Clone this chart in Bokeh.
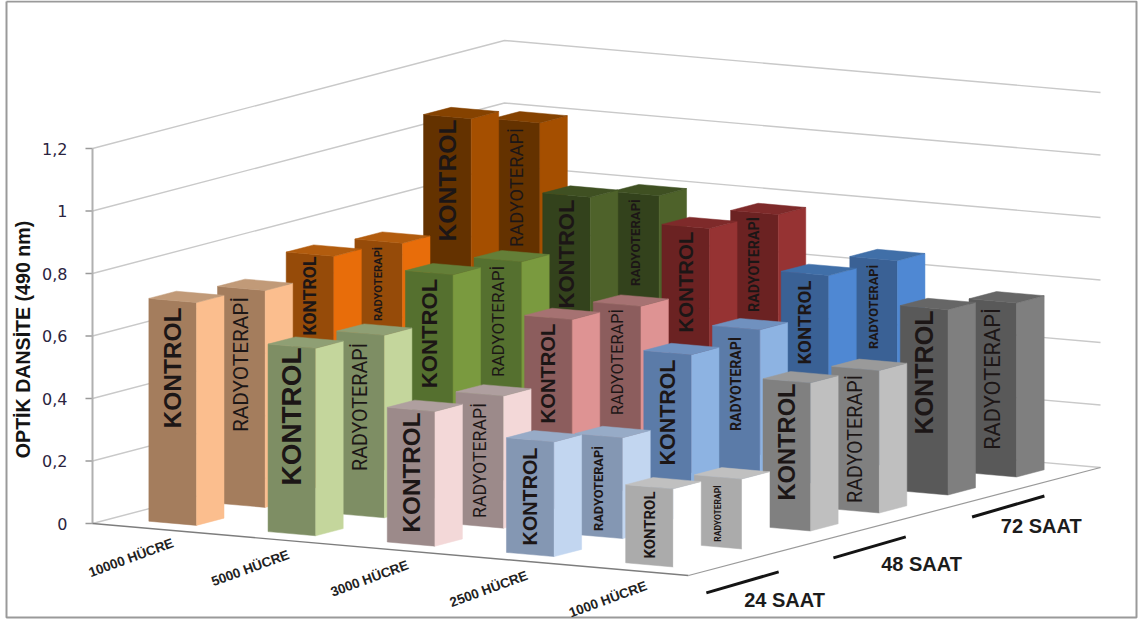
from math import pi
from bokeh.plotting import figure
from bokeh.embed import file_html
from bokeh.resources import INLINE
from bokeh.core.properties import value

cell_labels = ["10000 HÜCRE", "5000 HÜCRE", "3000 HÜCRE", "2500 HÜCRE", "1000 HÜCRE"]
hour_labels = ["24 SAAT", "48 SAAT", "72 SAAT"]
tick_values = [0, 0.2, 0.4, 0.6, 0.8, 1.0, 1.2]
tick_labels = ["0", "0,2", "0,4", "0,6", "0,8", "1", "1,2"]
y_title = "OPTİK DANSİTE (490 nm)"
series_names = ["KONTROL", "RADYOTERAPİ"]

# Optical density per cell count, front row to back row
kontrol_24 = [0.713, 0.600, 0.431, 0.367, 0.250]
radyo_24 = [0.694, 0.584, 0.423, 0.323, 0.224]
kontrol_48 = [0.746, 0.720, 0.610, 0.531, 0.474]
radyo_48 = [0.730, 0.704, 0.595, 0.553, 0.456]
kontrol_72 = [1.071, 0.853, 0.786, 0.669, 0.593]
radyo_72 = [1.000, 0.800, 0.773, 0.659, 0.557]
rows = [kontrol_24, radyo_24, kontrol_48, radyo_48, kontrol_72, radyo_72]

# Face colours (front, side, top) for each hour group and cell count
palette = {
    0: [("#A47D5D", "#FBBE8E", "#C19A78"), ("#7E8E64", "#C4D69C", "#8F9F74"), ("#9C8A8A", "#F3D8D8", "#AF9F9F"),
        ("#8497B3", "#C2D6F0", "#97ABC7"), ("#ABABAB", "#FFFFFF", "#C0C0C0")],
    1: [("#964B09", "#E86D0A", "#B25C0E"), ("#55702F", "#7A9A3F", "#647F38"), ("#8C5D5D", "#DE9393", "#A67272"),
        ("#5B7BA8", "#8DB3E2", "#7091BF"), ("#808080", "#BFBFBF", "#9A9A9A")],
    2: [("#643200", "#A54F00", "#854200"), ("#33421C", "#4E622A", "#3F5022"), ("#6B2222", "#963333", "#7E2A2A"),
        ("#3A6195", "#4F88D3", "#406FA8"), ("#595959", "#7F7F7F", "#666666")],
}

# Vertical extent of the text printed on each bar's front face
label_spans = [
    [(307, 428), (347, 485), (412, 532), (447, 545), (491, 558)],
    [(296, 432), (342, 471), (402, 518), (444, 532), (484, 542)],
    [(256, 335), (278, 388), (323, 423), (359, 465), (383, 500)],
    [(245, 322), (265, 377), (308, 415), (335, 432), (374, 503)],
    [(119, 241), (199, 308), (231, 332), (280, 364), (310, 434)],
    [(127, 247), (197, 287), (215, 313), (263, 350), (307, 450)],
]

# Oblique projection of the chart box onto the page
ORIGIN = (92.0, 523.0)
U = (119.2, 10.4)     # one cell-count category
V = (68.67, -18.0)    # one depth row
H = 312.5             # page pixels per unit of optical density
N_U, N_V = 5, 6
GAP, WIDTH = 0.3, 0.4


def project(u, v, h=0.0):
    return (ORIGIN[0] + u * U[0] + v * V[0],
            ORIGIN[1] + u * U[1] + v * V[1] - h * H)


def polyline(points):
    return [pt[0] for pt in points], [pt[1] for pt in points]


p = figure(width=1143, height=621, x_range=(0, 1143), y_range=(621, 0),
           output_backend="svg", toolbar_location=None, min_border=0)
p.axis.visible = False
p.grid.visible = False
p.outline_line_color = None
p.background_fill_color = "white"

# Frame round the chart
fx, fy = polyline([(6, 1), (1136, 1), (1136, 617), (6, 617), (6, 1)])
p.line(fx, fy, line_color="#9a9a9a", line_width=2)

# Walls: gridlines run along the left wall, then along the back wall
for t in tick_values:
    xs, ys = polyline([project(0, 0, t), project(0, N_V, t), project(N_U, N_V, t)])
    p.line(xs, ys, line_color="#c9c9c9", line_width=1.4)
    tx, ty = polyline([(project(0, 0, t)[0] - 7, project(0, 0, t)[1]), project(0, 0, t)])
    p.line(tx, ty, line_color="#9a9a9a", line_width=1.4)

ax, ay = polyline([project(0, 0, 0), project(0, 0, 1.2)])
p.line(ax, ay, line_color="#b0b0b0", line_width=2)

# Floor outline
ex, ey = polyline([project(0, 0), project(N_U, 0)])
p.line(ex, ey, line_color="#7d7d7d", line_width=1.4)
ex, ey = polyline([project(N_U, 0), project(N_U, N_V)])
p.line(ex, ey, line_color="#9a9a9a", line_width=1.2)

# Bars, painted from the back row forward so nearer ones cover farther ones
for r in range(N_V - 1, -1, -1):
    for i in range(N_U):
        val = rows[r][i]
        front, side, top = palette[r // 2][i]
        u0, u1 = i + GAP, i + GAP + WIDTH
        v0, v1 = r + GAP, r + GAP + WIDTH
        faces_x, faces_y = [], []
        for quad in (
            [project(u0, v0, val), project(u1, v0, val), project(u1, v0), project(u0, v0)],
            [project(u1, v0, val), project(u1, v1, val), project(u1, v1), project(u1, v0)],
            [project(u0, v0, val), project(u1, v0, val), project(u1, v1, val), project(u0, v1, val)],
        ):
            qx, qy = polyline(quad)
            faces_x.append(qx)
            faces_y.append(qy)
        p.patches(faces_x, faces_y, fill_color=[front, side, top], line_color=[front, side, top], line_width=0.5)

        name = series_names[r % 2]
        y_top, y_bottom = label_spans[r][i]
        length = y_bottom - y_top
        cx = project((u0 + u1) / 2, v0)[0]
        # Short labels need a tighter, heavier face to stay legible
        if r % 2 == 0:
            tight = length < 90
            em = 4.5 if tight else 4.944
            font = "Roboto" if tight else "Liberation Sans"
            weight = "bold"
        elif length < 105:
            em, font, weight = 6.85, "Roboto", "bold"
        else:
            em, font, weight = 6.55, "Roboto", "normal"
        p.text([cx], [(y_top + y_bottom) / 2], text=[name], angle=pi / 2,
               text_align="center", text_baseline="middle",
               text_font=value(font), text_font_style=weight,
               text_font_size=f"{length / em:.1f}px", text_color="#1c1616")

# Value axis labels
for t, lab in zip(tick_values, tick_labels):
    p.text([67], [project(0, 0, t)[1]], text=[lab], text_align="right", text_baseline="middle",
           text_font=value("DejaVu Sans"), text_font_size="16px", text_color="#2b2440")

p.text([22], [339], text=[y_title], angle=pi / 2, text_align="center", text_baseline="middle",
       text_font=value("Liberation Sans"), text_font_style="bold", text_font_size="19.6px",
       text_color="#141414")

# Cell-count labels sit below the front floor edge
for i, lab in enumerate(cell_labels):
    bx, by = project(i + 0.5, 0)
    p.text([bx - 21], [by + 29], text=[lab], angle=0.35, text_align="center", text_baseline="middle",
           text_font=value("Liberation Sans"), text_font_style="bold", text_font_size="13.5px",
           text_color="#222222")

# Hour groups: a heavy stroke along the right floor edge plus its caption
hour_strokes = [(5.53, -0.66), (5.49, 1.26), (5.38, 3.47)]
hour_text_shift = [(42, 17.5), (52, 16.5), (33, 19.5)]
for (su, sv), (dx, dy), lab in zip(hour_strokes, hour_text_shift, hour_labels):
    a = project(su, sv)
    b = project(su - 0.05, sv + 1.14)
    sx, sy = polyline([a, b])
    p.line(sx, sy, line_color="#141414", line_width=3)
    p.text([(a[0] + b[0]) / 2 + dx], [(a[1] + b[1]) / 2 + dy], text=[lab], text_align="center",
           text_baseline="middle", text_font=value("Liberation Sans"), text_font_style="bold",
           text_font_size="20px", text_color="#1c1c1c")

open("out.html", "w").write(file_html(p, INLINE))
